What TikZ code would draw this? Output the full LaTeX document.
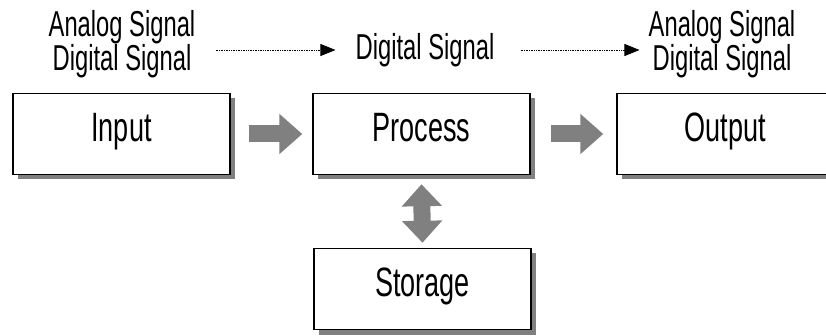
\documentclass[tikz,border=0pt]{standalone}
\usepackage{fontspec}
\setmainfont[FakeStretch=0.66]{Liberation Sans}
\usetikzlibrary{arrows.meta, positioning, calc, shadows}

\begin{document}
\begin{tikzpicture}[x=1pt, y=-1pt,
    box/.style={draw, line width=1.5pt, fill=white, minimum width=217pt, minimum height=81pt,
        text height=30pt, text depth=15pt, font=\fontsize{41}{44}\selectfont,
        drop shadow={shadow xshift=5pt, shadow yshift=-5pt, fill=gray, opacity=1}},
    sig/.style={align=center, inner sep=0pt, font=\fontsize{36}{29}\selectfont},
    bigarrow/.style={draw=gray, line width=17pt, -{Triangle[length=23pt, width=39pt]}},
    dualarrow/.style={draw=gray, line width=17pt, {Triangle[length=22pt, width=39pt]}-{Triangle[length=22pt, width=39pt]}},
    dotarrow/.style={dash pattern=on 0.8pt off 0.9pt, line width=0.8pt, -{Triangle[length=15pt, width=12pt]}}
]
    \useasboundingbox (0,0) rectangle (826,336);

    % Signals
    \node[sig] (sigin)  at (122,44) {Analog Signal\\Digital Signal};
    \node[sig] (sigmid) at (425,50) {Digital Signal};
    \node[sig] (sigout) at (722,44) {Analog Signal\\Digital Signal};
    \draw[dotarrow] ([xshift=20pt]sigin.east |- sigmid) -- ([xshift=-20pt]sigmid.west);
    \draw[dotarrow] ([xshift=26pt]sigmid.east) -- ([xshift=-9pt]sigout.west |- sigmid);

    % Boxes
    \node[box] (input)   at (121.5,134) {Input};
    \node[box] (process) at (421.5,134) {Process};
    \node[box] (output)  at (725.5,134) {Output};
    \node[box] (storage) at (422.5,289) {Storage};

    % Flow
    \draw[bigarrow] ([xshift=18pt]input.east) -- ([xshift=-10pt]process.west);
    \draw[bigarrow] ([xshift=20pt]process.east) -- ([xshift=-13pt]output.west);
    \draw[dualarrow] ([yshift=-9pt]process.south) -- ([yshift=5pt]storage.north);

\end{tikzpicture}
\end{document}
